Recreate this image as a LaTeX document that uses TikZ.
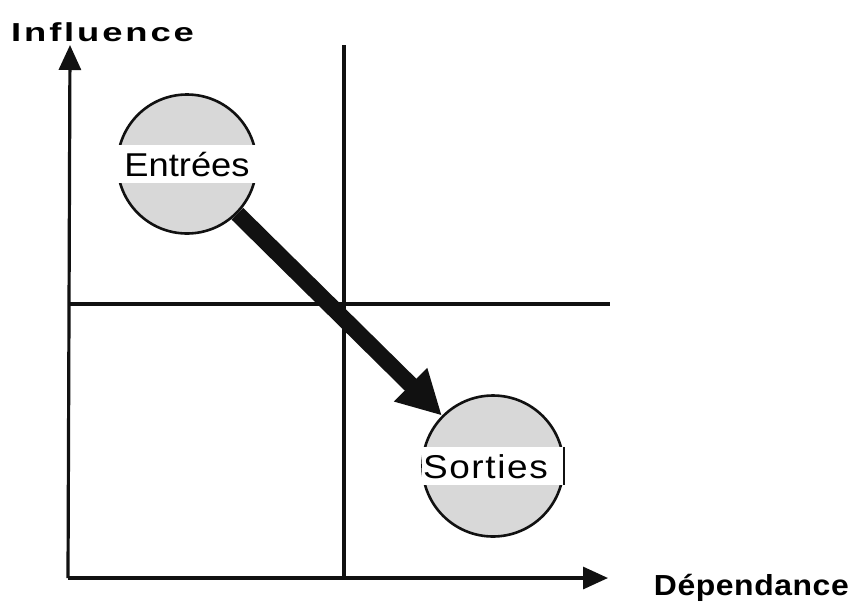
\documentclass[tikz,border=0pt]{standalone}
\usepackage{fontspec}
\setmainfont{Liberation Sans}
\newfontfamily\InflFont[FakeStretch=1.4,LetterSpace=11]{Liberation Sans Bold}
\newfontfamily\DepFont[FakeStretch=1.1,LetterSpace=2]{Liberation Sans Bold}
\newfontfamily\EntFont[FakeStretch=1.1]{Liberation Sans}
\newfontfamily\SorFont[FakeStretch=1.12,LetterSpace=5]{Liberation Sans}
\usetikzlibrary{arrows.meta,positioning,calc}
\definecolor{MapInk}{HTML}{111111}
\definecolor{MapDots}{HTML}{D8D8D8}

\begin{document}
\begin{tikzpicture}[x=1pt,y=-1pt,
    axis/.style={line width=3.2pt,MapInk,-{Triangle[width=22pt,length=25pt]}},
    split/.style={line width=4pt,MapInk},
    zone/.style={circle,draw=MapInk,line width=2.6pt,fill=MapDots,minimum size=139pt,inner sep=0pt},
    band/.style={fill=white,minimum width=142pt,text height=24pt,text depth=0pt,inner ysep=7pt,inner xsep=0pt},
    flow/.style={line width=16.5pt,MapInk,-{Triangle[width=44pt,length=44pt]}}]
      \useasboundingbox (0,0) rectangle (851,614);
      % axes
      \coordinate (origin) at (68,578);
      \coordinate (ytop) at (70,45);
      \coordinate (xend) at (608,578);
      \draw[split] (344,45) coordinate (vtop) -- (344,578) coordinate (vbot);
      \draw[split] (68,304) coordinate (hleft) -- (610,304) coordinate (hright);
      \draw[axis] (origin) -- (ytop);
      \draw[axis] (origin) -- (xend);
      \node[font=\InflFont\fontsize{26}{28}\selectfont,anchor=base west,inner sep=0pt] (infl) at (11,41) {Influence};
      \node[font=\DepFont\fontsize{29}{31}\selectfont,anchor=base east,inner sep=0pt] (dep) at (849,595) {Dépendance};
      % zones
      \node[zone] (ent) at (187,164) {};
      \node[band,font=\EntFont\fontsize{33}{36}\selectfont] (entlbl) at (ent) {Entrées};
      \node[zone,minimum size=141pt] (sor) at (493,466) {};
      \node[band,text width=140pt,align=left,font=\SorFont\fontsize{33}{36}\selectfont] (sorlbl) at (sor) {Sorties};
      \draw[line width=2pt,MapInk] (sorlbl.north east) -- (sorlbl.south east);
      \draw[flow] (ent) -- (sor);
    \end{tikzpicture}
\end{document}
